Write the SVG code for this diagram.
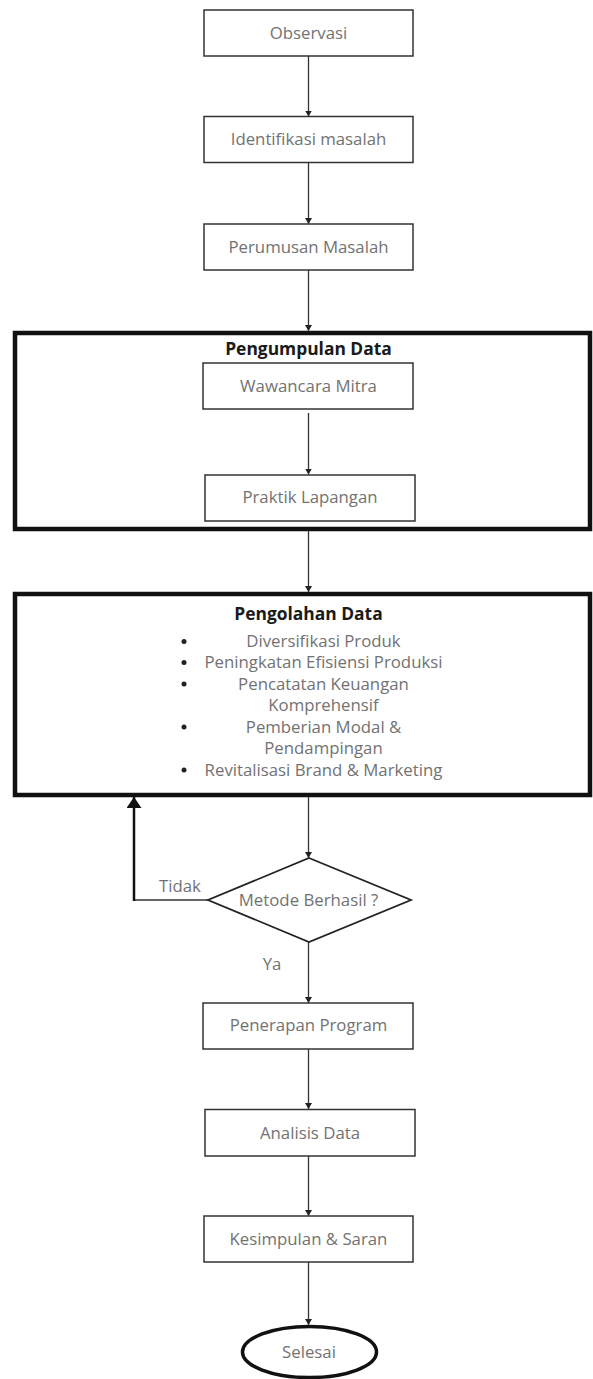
<svg xmlns="http://www.w3.org/2000/svg" width="593" height="1379" viewBox="0 0 593 1379">
<style>
.box{fill:#fff;stroke:#333;stroke-width:1.5}
.big{fill:#fff;stroke:#111;stroke-width:4.5}
.t{font-family:"Open Sans","Noto Sans","Liberation Sans",sans-serif;font-size:16.8px;fill:#727272;text-anchor:middle}
.h{font-family:"Open Sans","Noto Sans","Liberation Sans",sans-serif;font-size:17.4px;font-weight:bold;fill:#1a1a1a;text-anchor:middle}
.c{stroke:#333;stroke-width:1.3;fill:none}
.bul{fill:#222}
</style>
<defs>
<marker id="ah" viewBox="0 0 6 7" refX="6" refY="3.5" markerWidth="6" markerHeight="7" orient="auto" markerUnits="userSpaceOnUse"><path d="M0,0 L6,3.5 L0,7 Z" fill="#222"/></marker>
<marker id="ahb" viewBox="0 0 11 15" refX="11" refY="7.5" markerWidth="11" markerHeight="15" orient="auto" markerUnits="userSpaceOnUse"><path d="M0,0 L11,7.5 L0,15 Z" fill="#111"/></marker>
</defs>
<g id="pengumpulan">
<rect class="big" x="15" y="333" width="575" height="196"/>
<text class="h" x="308.5" y="354.5">Pengumpulan Data</text>
</g>
<g id="pengolahan">
<rect class="big" x="15" y="594" width="575" height="201"/>
<text class="h" x="308.5" y="619.5">Pengolahan Data</text>
<circle class="bul" cx="184" cy="641.5" r="2.5"/>
<text class="t" x="323.5" y="647">Diversifikasi Produk</text>
<circle class="bul" cx="184" cy="662.5" r="2.5"/>
<text class="t" x="323.5" y="668">Peningkatan Efisiensi Produksi</text>
<circle class="bul" cx="184" cy="684" r="2.5"/>
<text class="t" x="323.5" y="689.5">Pencatatan Keuangan</text>
<text class="t" x="323.5" y="711">Komprehensif</text>
<circle class="bul" cx="184" cy="727" r="2.5"/>
<text class="t" x="323.5" y="732.5">Pemberian Modal &amp;</text>
<text class="t" x="323.5" y="754">Pendampingan</text>
<circle class="bul" cx="184" cy="770" r="2.5"/>
<text class="t" x="323.5" y="775.5">Revitalisasi Brand &amp; Marketing</text>
</g>
<g id="connectors">
<line class="c" x1="308.5" y1="56" x2="308.5" y2="116.5" marker-end="url(#ah)"/>
<line class="c" x1="308.5" y1="162.5" x2="308.5" y2="224" marker-end="url(#ah)"/>
<line class="c" x1="308.5" y1="270" x2="308.5" y2="331" marker-end="url(#ah)"/>
<line class="c" x1="308.5" y1="413" x2="308.5" y2="474.5" marker-end="url(#ah)"/>
<line class="c" x1="308.5" y1="531" x2="308.5" y2="592" marker-end="url(#ah)"/>
<line class="c" x1="308.5" y1="797" x2="308.5" y2="858" marker-end="url(#ah)"/>
<line class="c" x1="308.5" y1="942" x2="308.5" y2="1003" marker-end="url(#ah)"/>
<line class="c" x1="308.5" y1="1049" x2="308.5" y2="1109" marker-end="url(#ah)"/>
<line class="c" x1="308.5" y1="1156" x2="308.5" y2="1216" marker-end="url(#ah)"/>
<line class="c" x1="308.5" y1="1262" x2="308.5" y2="1325" marker-end="url(#ah)"/>
<line class="c" x1="208" y1="900" x2="133" y2="900"/>
<line x1="134" y1="901" x2="134" y2="797" stroke="#111" stroke-width="2.5" marker-end="url(#ahb)"/>
<text class="t" x="180" y="892">Tidak</text>
<text class="t" x="272" y="970">Ya</text>
</g>
<g id="observasi"><rect class="box" x="204" y="10" width="209" height="46"/><text class="t" x="308.5" y="38.5">Observasi</text></g>
<g id="identifikasi"><rect class="box" x="204" y="116.5" width="209" height="46"/><text class="t" x="308.5" y="145">Identifikasi masalah</text></g>
<g id="perumusan"><rect class="box" x="204" y="224" width="209" height="46"/><text class="t" x="308.5" y="252.5">Perumusan Masalah</text></g>
<g id="wawancara"><rect class="box" x="203" y="363" width="210" height="46"/><text class="t" x="308.5" y="391.5">Wawancara Mitra</text></g>
<g id="praktik"><rect class="box" x="205" y="475" width="210" height="46"/><text class="t" x="310" y="503">Praktik Lapangan</text></g>
<g id="keputusan"><polygon points="309,858 411,900 309,942 208,900" fill="#fff" stroke="#222" stroke-width="1.8"/><text class="t" x="308.5" y="906">Metode Berhasil ?</text></g>
<g id="penerapan"><rect class="box" x="203" y="1003" width="210" height="46"/><text class="t" x="308.5" y="1031">Penerapan Program</text></g>
<g id="analisis"><rect class="box" x="205" y="1109.5" width="210" height="46.5"/><text class="t" x="310" y="1138.5">Analisis Data</text></g>
<g id="kesimpulan"><rect class="box" x="204" y="1216" width="209" height="46"/><text class="t" x="308.5" y="1244.5">Kesimpulan &amp; Saran</text></g>
<g id="selesai"><ellipse cx="309.5" cy="1352" rx="67" ry="25.5" fill="#fff" stroke="#111" stroke-width="3.5"/><text class="t" x="309" y="1358">Selesai</text></g>
</svg>
